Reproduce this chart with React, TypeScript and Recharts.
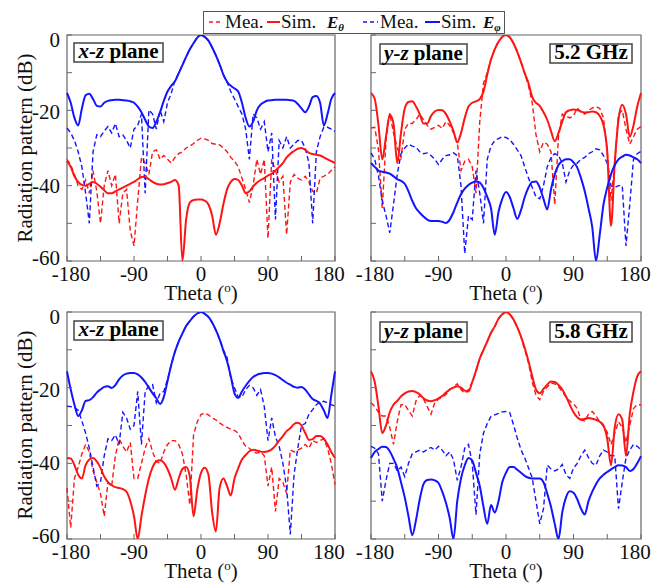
import React from "react";
import { LineChart, Line, XAxis, YAxis, ReferenceArea } from "recharts";

const FONT = '"Liberation Serif", "Times New Roman", serif';
const RED = "#ff1414";
const BLUE = "#1414ff";
const AXIS = "#666";

const THETA = [
  -180, -175, -170, -165, -160, -155, -150, -145, -140, -135, -130, -125,
  -120, -115, -110, -105, -100, -95, -90, -85, -80, -75, -70, -65,
  -60, -55, -50, -45, -40, -35, -30, -25, -20, -15, -10, -5,
  0, 5, 10, 15, 20, 25, 30, 35, 40, 45, 50, 55,
  60, 65, 70, 75, 80, 85, 90, 95, 100, 105, 110, 115,
  120, 125, 130, 135, 140, 145, 150, 155, 160, 165, 170, 175,
  180,
];

const X_TICKS = [-180, -135, -90, -45, 0, 45, 90, 135, 180];
const Y_TICKS = [0, -10, -20, -30, -40, -50, -60];

// 5.2 GHz, x-z plane
const XZ52_MEA_ETHETA = [
  -33, -34.5, -37, -40, -41, -38.5, -42, -36, -41.5, -50, -40, -36,
  -40, -37, -50, -42, -41, -52, -56, -44, -32.5, -34, -37, -31,
  -30.5, -33, -32, -33, -34, -32.5, -31.5, -31, -30, -29.5, -28.8, -28,
  -27.4, -27.6, -28, -28.8, -29, -29.2, -30, -31, -32.5, -33.5, -35, -38,
  -41, -44.5, -40, -33, -37, -33, -54, -33, -36, -39, -37.5, -53,
  -39, -37, -38, -38.5, -37.5, -39, -41.5, -42, -38, -37.5, -37, -36,
  -35,
];
const XZ52_SIM_ETHETA = [
  -33.5, -35, -37.5, -39, -39.8, -40, -39.5, -39, -39.5, -40.3, -41.2, -42,
  -42, -41.5, -41, -40.5, -40, -39.5, -39, -38.3, -37.7, -37.6, -38.3, -39,
  -39.5, -39.7, -39.6, -39.3, -39, -38.5, -40, -60, -49, -44.5, -43.8, -43.7,
  -43.7, -44, -45, -48, -53, -50, -45, -41, -39, -38.2, -38.5, -40,
  -42, -41.5, -40.2, -39.2, -38.5, -38, -37.3, -36.8, -36, -35, -34, -32.5,
  -31.5, -30.8, -30.2, -30, -30.5, -31.3, -31.6, -31.8, -32, -32.5, -33, -33.5,
  -34,
];
const XZ52_MEA_EPHI = [
  -24.7, -26, -28, -31, -35, -42, -50, -31, -26.5, -27, -25.5, -24.3,
  -26, -23.5, -27, -26.5, -28, -30, -25, -24, -21, -42, -19.9, -21,
  -25, -20, -23, -18, -15.5, -12, -10.2, -8, -5.8, -3.8, -2.2, -0.7,
  0, -0.5, -1.5, -3.3, -5.4, -7.8, -10.5, -12.5, -15, -17, -19, -21,
  -25, -33, -21, -22, -25, -23, -31, -26, -49, -28, -30, -27,
  -30, -29, -28, -28, -30, -34, -50, -31, -27, -24.5, -24.5, -25,
  -25.6,
];
const XZ52_SIM_EPHI = [
  -15.4, -18, -22, -24, -19.5, -16, -15.6, -17, -18.8, -19, -18, -17.5,
  -17.3, -17.2, -17.2, -17.3, -17.4, -17.6, -18, -19, -20.5, -22.5, -24.3, -24.7,
  -23, -20.5, -17.5, -15, -13.5, -12.3, -10.2, -8, -5.8, -3.8, -2.2, -0.7,
  0, -0.5, -1.5, -3.3, -5.4, -7.8, -10.5, -12.4, -13.5, -14.2, -15, -18,
  -22, -24.3, -23, -20, -18.5, -17.8, -17.4, -17.3, -17.2, -17.2, -17.2, -17.2,
  -17.3, -17.5, -18.3, -19.5, -20.5, -19, -16.5, -16.2, -18, -24, -21, -17,
  -15.4,
];

// 5.2 GHz, y-z plane
const YZ52_MEA_ETHETA = [
  -24.7, -24.5, -30.5, -46, -28, -20.7, -26, -30, -32.5, -25, -23.5, -23.5,
  -22.5, -21, -22.5, -24, -25, -24.5, -24, -24.8, -23, -24, -26, -28.5,
  -36, -33.5, -33, -35, -42, -23, -12.8, -10, -6.5, -3.8, -1.8, -0.5,
  0, -0.6, -2.2, -4.5, -7.2, -10.2, -13.5, -18, -26.5, -31, -28.5, -29,
  -31, -45, -27, -21, -21.5, -22, -21.5, -19.4, -20.5, -21, -20, -19.4,
  -19, -19.5, -22, -31, -44, -34, -21, -20, -25, -29, -27, -25,
  -24.3,
];
const YZ52_SIM_ETHETA = [
  -15.4, -17, -24, -33, -27, -21.2, -23.5, -34, -26, -19.5, -17.8, -17.6,
  -19, -21, -23.5, -23.5, -21.5, -20.3, -19.9, -20, -21, -23, -25.5, -28.5,
  -26, -22, -19, -18, -17.6, -17, -15, -10.5, -6.5, -3.8, -1.8, -0.5,
  0, -0.6, -2.2, -4.5, -7.2, -10.2, -12.8, -16.5, -18, -18.8, -20.5, -22.5,
  -25.5, -28.2, -26, -23, -20.5, -20, -19.8, -19.9, -20.3, -20.6, -20.5, -20.3,
  -20.5, -21.5, -24, -31, -50.7, -34, -22.5, -18.5, -21, -27, -24, -19,
  -15.4,
];
const YZ52_MEA_EPHI = [
  -31.3, -33, -37.5, -44, -48, -52.5, -45, -37, -31.5, -30, -29, -29.5,
  -29.8, -31, -31.5, -31.3, -32, -33, -34.4, -33, -32, -31.8, -31.3, -32,
  -40, -58, -48, -49, -36, -42, -50, -33, -29.5, -28, -27.5, -27,
  -27.2, -27.8, -29, -30.5, -32, -35, -38, -40.5, -43, -43.5, -40, -35,
  -32.5, -31.5, -32, -34, -39, -36, -34.5, -34, -33, -32.5, -31.5, -31,
  -30.2, -30.5, -32, -34, -40, -40.5, -40, -40, -56, -45, -33, -31.5,
  -30.9,
];
const YZ52_SIM_EPHI = [
  -34, -35, -36, -36.3, -36.5, -36.8, -37.5, -38.3, -38.7, -39.5, -41.5, -44,
  -46, -47.2, -48.2, -49, -49.4, -49.4, -49.4, -49.6, -49.9, -49, -47, -44.5,
  -42.3, -40.8, -39.8, -39.2, -38.9, -39.2, -40.6, -43, -46, -53, -47, -43.5,
  -41.7, -43, -46, -48.8, -46.5, -43, -40.5, -39, -38.9, -40.5, -43.5, -46.3,
  -41, -37, -34.5, -33.5, -33, -33, -33.8, -35.2, -38, -41.5, -46, -51,
  -60, -53, -45, -40.5, -37, -34.5, -33, -32.3, -31.8, -32, -32.5, -33,
  -34,
];

// 5.8 GHz, x-z plane
const XZ58_MEA_ETHETA = [
  -46.5, -57, -44, -41, -37.5, -35, -37, -42, -45, -48, -54, -45,
  -46, -38, -33.5, -35.5, -37, -34.5, -44, -44, -40, -36, -33.5, -37,
  -39.5, -40, -37, -35, -34, -34, -35, -37.5, -43, -51, -32.5, -29,
  -27.1, -26.7, -27.2, -28, -28.5, -29.3, -30, -30.5, -31, -31.3, -32, -34,
  -35.5, -36, -37, -37.3, -37, -38, -46, -41, -52.7, -44, -45, -48,
  -36.5, -37, -36.5, -36, -35, -36, -34, -34.5, -34, -33.5, -36, -40,
  -45.6,
];
const XZ58_SIM_ETHETA = [
  -38.6, -38.7, -40.5, -43, -44, -40.5, -39, -38.6, -39.5, -41.2, -43.5, -45,
  -45.8, -46.3, -46.5, -46.8, -47.5, -50, -54, -60, -54, -48.5, -44, -41,
  -39.5, -39.2, -39.8, -41.5, -44, -47, -44, -41.5, -41, -43.5, -54, -47,
  -42.5, -41.2, -43, -53, -58, -46.5, -44, -46, -48.5, -44, -41.3, -39,
  -37.8, -36.8, -36.4, -36.6, -36.9, -37, -36.8, -36.3, -35.3, -34, -32.8, -31.5,
  -30.7, -29.6, -29.3, -30, -32, -33.8, -33.6, -32.8, -32.8, -33.5, -35, -37,
  -38.6,
];
const XZ58_MEA_EPHI = [
  -24.9, -25, -25.2, -26, -28.8, -32, -36, -41, -46, -45, -38, -33.5,
  -34, -32.5, -35, -26.5, -28, -31, -30, -21, -35, -21, -19.5, -19.2,
  -24, -21.5, -21, -17.8, -14, -10.5, -7.8, -5.7, -3.7, -2.4, -1.2, -0.4,
  0, -0.5, -1.3, -2.8, -4.8, -7.2, -10, -12, -17.5, -20, -22.5, -22.5,
  -20.5, -19.4, -20, -22, -20.5, -25, -34, -28, -33, -35.5, -40, -46.5,
  -58.8, -43, -36, -30, -29.5, -27, -25.8, -24.5, -23.8, -23.6, -24, -24.5,
  -24.9,
];
const XZ58_SIM_EPHI = [
  -15.7, -20.5, -24.5, -27.5, -26, -23.5, -23.3, -22.5, -21.3, -20.5, -19.8, -19.6,
  -20.1, -19.3, -17.8, -16.8, -16.3, -16.1, -16.1, -16.5, -17.3, -18.5, -20, -21.5,
  -22.8, -24.3, -22.5, -18.3, -14, -10.5, -7.8, -5.7, -3.7, -2.4, -1.2, -0.4,
  0, -0.5, -1.3, -2.8, -4.8, -7.2, -10.2, -13, -17, -21.5, -22.7, -21,
  -19.5, -18.2, -17.2, -16.6, -16.3, -16.1, -16.1, -16.3, -16.7, -17.3, -18, -18.7,
  -19.2, -19.8, -20, -19.8, -20.5, -21.8, -23, -23.5, -24.2, -26, -28, -22,
  -15.7,
];

// 5.8 GHz, y-z plane
const YZ58_MEA_ETHETA = [
  -24, -25, -26.5, -27.5, -27.5, -30.5, -35, -29, -24.5, -24.5, -26, -27.5,
  -23.5, -22, -23, -25, -27, -24, -23, -22.5, -21.8, -20.5, -19.8, -19,
  -20.5, -21.5, -20.5, -18.5, -15.8, -12.3, -10, -7.8, -5.5, -3.8, -1.8, -0.6,
  0, -0.6, -2, -4, -6.5, -10, -13.5, -18.5, -22, -23.2, -21, -19.8,
  -18.8, -19, -19.8, -21, -22.5, -23.5, -24.3, -25.5, -28.5, -28.8, -27, -26.3,
  -27.5, -29, -30.2, -31.8, -35, -32, -29, -30.5, -34.5, -30, -25.5, -24.5,
  -24.5,
];
const YZ58_SIM_ETHETA = [
  -15.7, -18.5, -25, -32, -30, -26.5, -24.5, -23.5, -22.3, -21.5, -21, -20.9,
  -21.2, -21.8, -22.8, -23.4, -23.6, -23.3, -22.8, -22.2, -21.3, -20.5, -20, -19.6,
  -20, -20.8, -21, -18.5, -15.5, -12.3, -10, -7.8, -5.5, -3.8, -1.8, -0.6,
  0, -0.6, -2, -4, -6.5, -9.5, -13, -17, -20.5, -21.5, -20.3, -19.2,
  -18.4, -18.5, -19.3, -20.5, -22.3, -24.5, -26.5, -27.8, -28.4, -28.3, -28, -28.2,
  -28.5, -29, -30, -33.5, -40.5, -30.5, -27, -28.5, -38, -27, -21, -17,
  -15.7,
];
const YZ58_MEA_EPHI = [
  -35.5, -36, -37.5, -50, -44.5, -40, -40, -42, -41, -43.5, -40, -37.5,
  -37, -36.5, -37, -36.3, -35.8, -36.5, -35.5, -36.5, -38, -37, -39, -44.5,
  -41, -36, -35, -40, -53.6, -37.5, -32, -29.5, -27.6, -27.2, -26.8, -26.4,
  -26.3, -26.6, -29.8, -33.3, -36.4, -38.6, -41.2, -43.9, -50, -56, -52, -40.5,
  -41.5, -42, -41.5, -40.3, -43, -44, -41.3, -40, -38, -36.5, -38.5, -40,
  -40.5, -38, -36.5, -37, -38, -38, -52, -45, -38.5, -36.5, -35, -35.5,
  -36.4,
];
const YZ58_SIM_EPHI = [
  -38.6, -37, -36.2, -35.6, -35.7, -36.8, -38.8, -41.2, -45, -49, -54, -59,
  -55, -49.5, -45.5, -44.4, -44.3, -44.5, -45.2, -47.5, -50.5, -54.5, -60, -50,
  -44, -40.5, -38.6, -39.3, -42.5, -46, -51.5, -56, -51, -53, -50, -45,
  -42.5, -41, -41, -41.7, -42.5, -43.3, -43.8, -44, -44, -44, -45, -48,
  -51.5, -56, -60, -53, -49, -47.4, -47.8, -49.5, -52, -53.5, -50, -47.5,
  -45.5, -44, -43, -42.3, -41.6, -41, -40.5, -40.6, -41, -42, -41.5, -40,
  -38.1,
];

// the printed labels sit a little off their ticks in the original
const Y_LABEL_SHIFT: Record<number, number> = { 0: 5, [-20]: 2, [-40]: 0, [-60]: -3 };
const X_LABEL_SHIFT: Record<number, number> = { [-180]: 4, 180: -6 };

const renderXTick = (props: any) => {
  const { x, y, payload } = props;
  if (payload.value % 90 !== 0) return <g />;
  return (
    <text x={x + (X_LABEL_SHIFT[payload.value] || 0)} y={y + 13} textAnchor="middle" dominantBaseline="central" fontSize={21} fontFamily={FONT} fill="#111">
      {payload.value}
    </text>
  );
};

const renderYTick = (props: any) => {
  const { x, y, payload } = props;
  if (payload.value % 20 !== 0) return <g />;
  return (
    <text x={x - 7} y={y + (Y_LABEL_SHIFT[payload.value] || 0)} textAnchor="end" dominantBaseline="central" fontSize={21} fontFamily={FONT} fill="#111">
      {payload.value}
    </text>
  );
};

const noTick = () => <g />;

type PanelProps = {
  left: number;
  top: number;
  width: number;
  height: number;
  meaT: number[];
  simT: number[];
  meaP: number[];
  simP: number[];
  yLabels: boolean;
};

function Panel({ left, top, width, height, meaT, simT, meaP, simP, yLabels }: PanelProps) {
  const rows = THETA.map((t, i) => ({ theta: t, meaT: meaT[i], simT: simT[i], meaP: meaP[i], simP: simP[i] }));
  return (
    <div style={{ position: "absolute", left: left - 60, top: top - 10 }}>
      <LineChart width={width + 85} height={height + 40} data={rows} margin={{ top: 10, right: 25, bottom: 0, left: 0 }}>
        <XAxis
          dataKey="theta"
          type="number"
          domain={[-180, 180]}
          ticks={X_TICKS}
          interval={0}
          height={30}
          axisLine={false}
          tickSize={-5}
          tickMargin={5}
          tickLine={{ stroke: AXIS }}
          tick={renderXTick}
        />
        <YAxis
          type="number"
          domain={[-60, 0]}
          ticks={Y_TICKS}
          interval={0}
          width={60}
          axisLine={false}
          tickSize={-5}
          tickMargin={5}
          tickLine={{ stroke: AXIS }}
          tick={yLabels ? renderYTick : noTick}
          allowDataOverflow
        />
        <ReferenceArea x1={-180} x2={180} y1={-60} y2={0} fill="none" stroke={AXIS} strokeWidth={1.2} />
        <Line dataKey="meaT" type="linear" stroke={RED} strokeWidth={1.4} strokeDasharray="5 3" dot={false} isAnimationActive={false} />
        <Line dataKey="meaP" type="linear" stroke={BLUE} strokeWidth={1.4} strokeDasharray="5 3" dot={false} isAnimationActive={false} />
        <Line dataKey="simT" type="monotone" stroke={RED} strokeWidth={2} dot={false} isAnimationActive={false} />
        <Line dataKey="simP" type="monotone" stroke={BLUE} strokeWidth={2} dot={false} isAnimationActive={false} />
      </LineChart>
    </div>
  );
}

function TagBox({ x, y, w, h, children }: { x: number; y: number; w: number; h: number; children: React.ReactNode }) {
  return (
    <g>
      <rect x={x} y={y} width={w} height={h} fill="#fff" stroke="#444" strokeWidth={1.5} />
      <text x={x + w / 2} y={y + h - 4} textAnchor="middle" fontSize={21} fontWeight="bold" fontFamily={FONT} fill="#000">
        {children}
      </text>
    </g>
  );
}

function ThetaLabel({ x, y }: { x: number; y: number }) {
  return (
    <text x={x} y={y + 7} textAnchor="middle" fontSize={21} fontFamily={FONT} fill="#111">
      Theta (<tspan fontSize={13} dy={-8}>o</tspan>
      <tspan dy={8}>)</tspan>
    </text>
  );
}

function Overlay() {
  return (
    <svg width={665} height={583} style={{ position: "absolute", left: 0, top: 0, pointerEvents: "none" }} fontFamily={FONT}>
      {/* legend */}
      <rect x={203.5} y={11.5} width={301} height={22} fill="#fff" stroke="#555" strokeWidth={1} />
      <line x1={209} x2={223} y1={22} y2={22} stroke={RED} strokeWidth={1.6} strokeDasharray="4 3" />
      <text x={225} y={28} fontSize={19} fill="#111">Mea.</text>
      <line x1={267} x2={280} y1={22} y2={22} stroke={RED} strokeWidth={2} />
      <text x={281} y={28} fontSize={19} fill="#111">Sim.</text>
      <text x={327} y={28} fontSize={17} fontWeight="bold" fontStyle="italic" fill="#111">
        E<tspan fontSize={11} dy={3}>θ</tspan>
      </text>
      <line x1={363} x2={378} y1={22} y2={22} stroke={BLUE} strokeWidth={1.6} strokeDasharray="4 3" />
      <text x={380} y={28} fontSize={19} fill="#111">Mea.</text>
      <line x1={425} x2={440} y1={22} y2={22} stroke={BLUE} strokeWidth={2} />
      <text x={441} y={28} fontSize={19} fill="#111">Sim.</text>
      <text x={483} y={28} fontSize={17} fontWeight="bold" fontStyle="italic" fill="#111">
        E<tspan fontSize={11} dy={3}>φ</tspan>
      </text>

      {/* plane / frequency tags */}
      <TagBox x={74} y={43} w={89} h={19}>
        <tspan fontStyle="italic">x-z</tspan> plane
      </TagBox>
      <TagBox x={380} y={44} w={87} h={20}>
        <tspan fontStyle="italic">y-z</tspan> plane
      </TagBox>
      <TagBox x={550} y={44} w={82} h={19}>5.2 GHz</TagBox>
      <TagBox x={74} y={321} w={89} h={19}>
        <tspan fontStyle="italic">x-z</tspan> plane
      </TagBox>
      <TagBox x={380} y={322} w={87} h={20}>
        <tspan fontStyle="italic">y-z</tspan> plane
      </TagBox>
      <TagBox x={550} y={322} w={82} h={20}>5.8 GHz</TagBox>

      {/* axis titles */}
      <text transform="translate(25,148) rotate(-90)" textAnchor="middle" dominantBaseline="central" fontSize={21} fill="#111">
        Radiation pattern (dB)
      </text>
      <text transform="translate(25,425) rotate(-90)" textAnchor="middle" dominantBaseline="central" fontSize={21} fill="#111">
        Radiation pattern (dB)
      </text>
      <ThetaLabel x={201} y={293} />
      <ThetaLabel x={506} y={293} />
      <ThetaLabel x={201} y={571} />
      <ThetaLabel x={506} y={571} />
    </svg>
  );
}

export default function App() {
  return (
    <div style={{ position: "absolute", left: 0, top: 0, width: 665, height: 583, background: "#fff", fontFamily: FONT }}>
      <Panel left={67} top={35} width={268} height={226} meaT={XZ52_MEA_ETHETA} simT={XZ52_SIM_ETHETA} meaP={XZ52_MEA_EPHI} simP={XZ52_SIM_EPHI} yLabels />
      <Panel left={371} top={35} width={270} height={226} meaT={YZ52_MEA_ETHETA} simT={YZ52_SIM_ETHETA} meaP={YZ52_MEA_EPHI} simP={YZ52_SIM_EPHI} yLabels={false} />
      <Panel left={67} top={312} width={268} height={227} meaT={XZ58_MEA_ETHETA} simT={XZ58_SIM_ETHETA} meaP={XZ58_MEA_EPHI} simP={XZ58_SIM_EPHI} yLabels />
      <Panel left={371} top={312} width={270} height={227} meaT={YZ58_MEA_ETHETA} simT={YZ58_SIM_ETHETA} meaP={YZ58_MEA_EPHI} simP={YZ58_SIM_EPHI} yLabels={false} />
      <Overlay />
    </div>
  );
}
